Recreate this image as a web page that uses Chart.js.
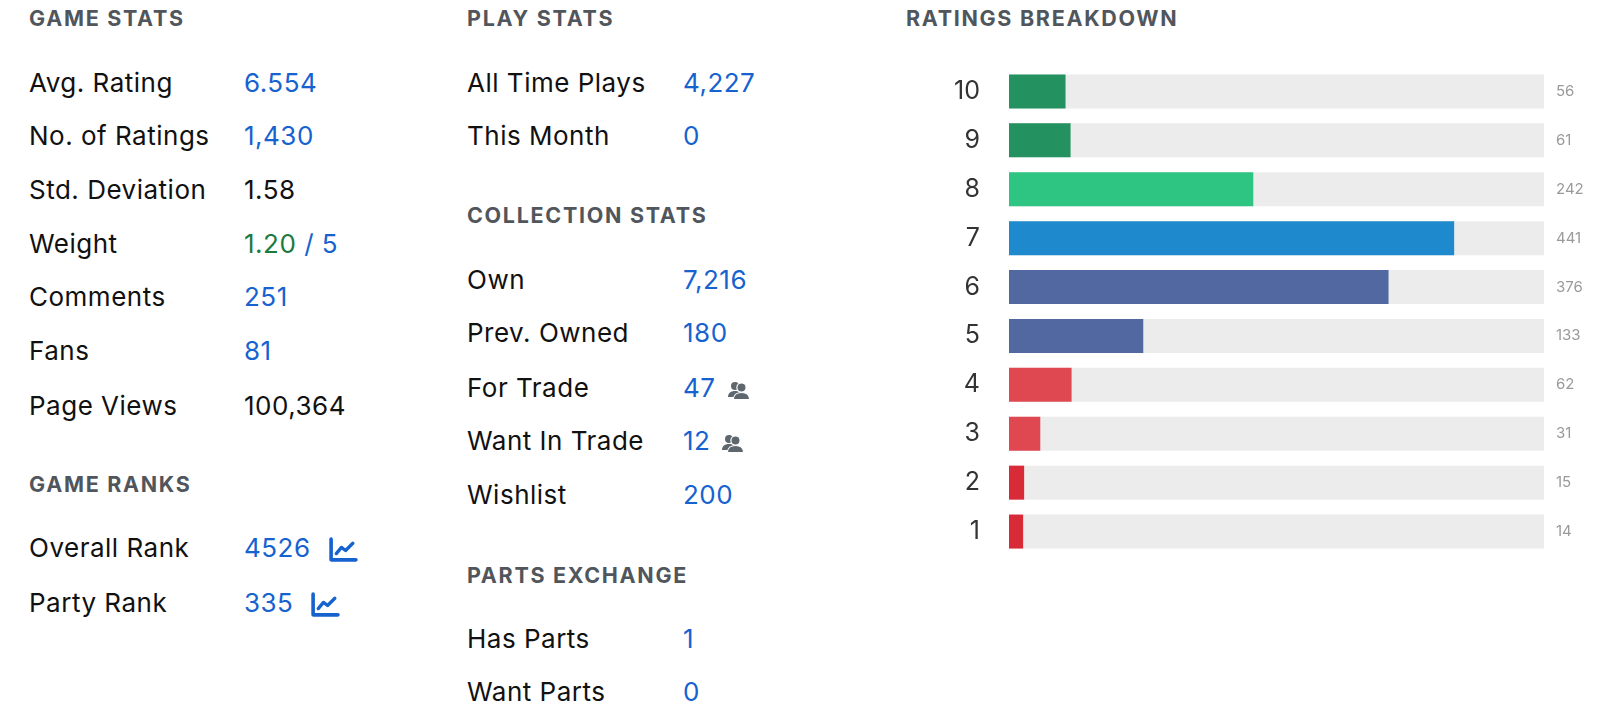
<!DOCTYPE html>
<html>
<head>
<meta charset="utf-8">
<title>Stats</title>
<script src="https://cdn.jsdelivr.net/npm/chart.js@4.4.0/dist/chart.umd.min.js"></script>
<style>
  body { margin:0; width:1609px; height:717px; overflow:hidden; background:#fff; position:relative;
         font-family: Inter, "Noto Sans", sans-serif; color:#111; }
  .h { position:absolute; font-weight:700; font-size:21.5px; letter-spacing:1.7px; color:#50565c;
       line-height:30px; white-space:nowrap; }
  .l, .v { position:absolute; font-size:26px; letter-spacing:0.5px; line-height:30px; white-space:nowrap; }
  .v { color:#1662cf; }
  .k { color:#111; }
  .g { color:#1d7a3e; }
  .ico { vertical-align:middle; }
  #box { position:absolute; left:906px; top:67px; width:703px; height:489px; }
</style>
</head>
<body>
  <!-- game stats -->
  <div class="h" style="left:29px;top:3px">GAME STATS</div>
  <div class="l" style="left:29px;top:68px">Avg. Rating</div><div class="v" style="left:244px;top:68px">6.554</div>
  <div class="l" style="left:29px;top:121px">No. of Ratings</div><div class="v" style="left:244px;top:121px">1,430</div>
  <div class="l" style="left:29px;top:175px">Std. Deviation</div><div class="v k" style="left:244px;top:175px">1.58</div>
  <div class="l" style="left:29px;top:229px">Weight</div><div class="v" style="left:244px;top:229px"><span class="g">1.20</span> / 5</div>
  <div class="l" style="left:29px;top:282px">Comments</div><div class="v" style="left:244px;top:282px">251</div>
  <div class="l" style="left:29px;top:336px">Fans</div><div class="v" style="left:244px;top:336px">81</div>
  <div class="l" style="left:29px;top:391px">Page Views</div><div class="v k" style="left:244px;top:391px">100,364</div>

  <div class="h" style="left:29px;top:469px">GAME RANKS</div>
  <div class="l" style="left:29px;top:533px">Overall Rank</div>
  <div class="v" style="left:244px;top:533px">4526<svg class="ico" style="margin-left:17px" width="30" height="26" viewBox="0 0 29 25"><path d="M3 2V22H27" fill="none" stroke="#1662cf" stroke-width="3.5" stroke-linecap="round" stroke-linejoin="round"/><polyline points="8,16 13,10 17,13 24,6" fill="none" stroke="#1662cf" stroke-width="3.2" stroke-linecap="round" stroke-linejoin="round"/></svg></div>
  <div class="l" style="left:29px;top:588px">Party Rank</div>
  <div class="v" style="left:244px;top:588px">335<svg class="ico" style="margin-left:17px" width="30" height="26" viewBox="0 0 29 25"><path d="M3 2V22H27" fill="none" stroke="#1662cf" stroke-width="3.5" stroke-linecap="round" stroke-linejoin="round"/><polyline points="8,16 13,10 17,13 24,6" fill="none" stroke="#1662cf" stroke-width="3.2" stroke-linecap="round" stroke-linejoin="round"/></svg></div>

  <!-- play / collection / parts -->
  <div class="h" style="left:467px;top:3px">PLAY STATS</div>
  <div class="l" style="left:467px;top:68px">All Time Plays</div><div class="v" style="left:683px;top:68px">4,227</div>
  <div class="l" style="left:467px;top:121px">This Month</div><div class="v" style="left:683px;top:121px">0</div>

  <div class="h" style="left:467px;top:200px">COLLECTION STATS</div>
  <div class="l" style="left:467px;top:265px">Own</div><div class="v" style="left:683px;top:265px">7,216</div>
  <div class="l" style="left:467px;top:318px">Prev. Owned</div><div class="v" style="left:683px;top:318px">180</div>
  <div class="l" style="left:467px;top:373px">For Trade</div>
  <div class="v" style="left:683px;top:373px">47<svg class="ico" style="margin-left:11px" width="23" height="20" viewBox="0 0 23 20"><circle cx="8" cy="6" r="4" fill="#5f676e"/><path d="M1 17c0-4 3-6 7-6s5 1 5 3v3z" fill="#5f676e"/><circle cx="14.5" cy="7.5" r="4.6" fill="#5f676e" stroke="#fff" stroke-width="1.2"/><path d="M6.5 19.5c0-4.5 3.5-7 8-7s8 2.5 8 7z" fill="#5f676e" stroke="#fff" stroke-width="1.2"/></svg></div>
  <div class="l" style="left:467px;top:426px">Want In Trade</div>
  <div class="v" style="left:683px;top:426px">12<svg class="ico" style="margin-left:11px" width="23" height="20" viewBox="0 0 23 20"><circle cx="8" cy="6" r="4" fill="#5f676e"/><path d="M1 17c0-4 3-6 7-6s5 1 5 3v3z" fill="#5f676e"/><circle cx="14.5" cy="7.5" r="4.6" fill="#5f676e" stroke="#fff" stroke-width="1.2"/><path d="M6.5 19.5c0-4.5 3.5-7 8-7s8 2.5 8 7z" fill="#5f676e" stroke="#fff" stroke-width="1.2"/></svg></div>
  <div class="l" style="left:467px;top:480px">Wishlist</div><div class="v" style="left:683px;top:480px">200</div>

  <div class="h" style="left:467px;top:560px">PARTS EXCHANGE</div>
  <div class="l" style="left:467px;top:624px">Has Parts</div><div class="v" style="left:683px;top:624px">1</div>
  <div class="l" style="left:467px;top:677px">Want Parts</div><div class="v" style="left:683px;top:677px">0</div>

  <!-- ratings breakdown -->
  <div class="h" style="left:906px;top:3px">RATINGS BREAKDOWN</div>
  <div id="box"><canvas id="ratings"></canvas></div>

<script>
  // ratings, top (10) to bottom (1)
  var ratingLabels = ['10', '9', '8', '7', '6', '5', '4', '3', '2', '1'];
  var ratingCounts = [56, 61, 242, 441, 376, 133, 62, 31, 15, 14];
  var axisMax = 530;
  var barColors = ['#239160', '#239160', '#2ec482', '#1e89cc', '#5268a0', '#5268a0',
                   '#df4751', '#df4751', '#d92b37', '#d92b37'];

  Chart.defaults.font.family = 'Inter';

  // fixed axis width, and no extra top/bottom room for the tick labels
  function fixAxis(width) {
    return function (s) {
      s.width = width;
      s.paddingTop = 0;
      s.paddingBottom = 0;
    };
  }

  var chart = new Chart(document.getElementById('ratings'), {
    type: 'bar',
    data: {
      labels: ratingLabels,
      datasets: [{
        data: ratingCounts,
        backgroundColor: barColors,
        grouped: false,
        barPercentage: 0.695,
        categoryPercentage: 1
      }, {
        // grey track behind each bar
        data: ratingLabels.map(function () { return axisMax; }),
        backgroundColor: '#ececec',
        grouped: false,
        barPercentage: 0.695,
        categoryPercentage: 1
      }]
    },
    options: {
      indexAxis: 'y',
      responsive: true,
      maintainAspectRatio: false,
      animation: false,
      layout: { padding: 0 },
      plugins: { legend: { display: false }, tooltip: { enabled: false } },
      scales: {
        x: { display: false, min: 0, max: axisMax },
        y: {
          grid: { display: false, drawTicks: false },
          border: { display: false },
          ticks: { color: '#333', padding: 29, font: { size: 25 } },
          afterFit: fixAxis(103)
        },
        y2: {
          type: 'category',
          position: 'right',
          offset: true,
          labels: ratingCounts.map(String),
          grid: { display: false, drawTicks: false },
          border: { display: false },
          ticks: { color: '#9a9a9a', padding: 12, font: { size: 15 } },
          afterFit: fixAxis(65)
        }
      }
    }
  });
</script>
</body>
</html>
